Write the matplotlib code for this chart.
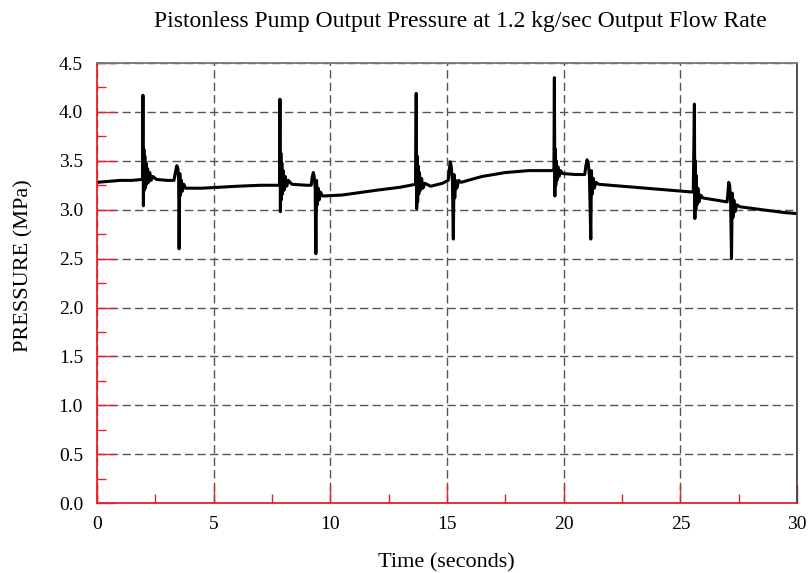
import matplotlib.pyplot as plt
from matplotlib.ticker import MultipleLocator

plt.rcParams['font.family'] = ['Liberation Serif', 'DejaVu Serif']

# time (s) and pressure (MPa)
time_s = [
    0.0, 0.5, 1.0, 1.5, 1.95, 1.97, 1.99, 2.01, 2.03, 2.05, 2.07, 2.10, 2.13, 2.17,
    2.21, 2.26, 2.32, 2.40, 2.55, 3.0, 3.30, 3.36, 3.42, 3.47, 3.50, 3.52, 3.55,
    3.58, 3.62, 3.66, 3.72, 3.80, 4.5, 6.0, 7.0, 7.82, 7.84, 7.86, 7.88, 7.90,
    7.92, 7.95, 7.98, 8.02, 8.07, 8.13, 8.20, 8.35, 9.0, 9.18, 9.22, 9.27, 9.31,
    9.35, 9.38, 9.41, 9.44, 9.48, 9.52, 9.58, 9.66, 10.5, 12.0, 13.0, 13.65,
    13.68, 13.70, 13.72, 13.74, 13.76, 13.79, 13.82, 13.86, 13.91, 13.97, 14.05,
    14.3, 14.8, 15.05, 15.10, 15.14, 15.18, 15.23, 15.27, 15.30, 15.33, 15.37,
    15.42, 15.50, 15.60, 16.5, 17.5, 18.5, 19.5, 19.58, 19.60, 19.62, 19.64,
    19.66, 19.68, 19.71, 19.75, 19.80, 19.86, 19.95, 20.5, 20.90, 20.95, 21.00,
    21.05, 21.10, 21.16, 21.19, 21.22, 21.26, 21.31, 21.38, 21.50, 23.0, 24.5,
    25.55, 25.60, 25.62, 25.64, 25.66, 25.68, 25.71, 25.75, 25.80, 25.87, 25.97,
    26.5, 27.0, 27.03, 27.07, 27.11, 27.15, 27.19, 27.22, 27.25, 27.29, 27.34,
    27.42, 27.55, 28.5, 29.5, 30.0,
]
pressure_mpa = [
    3.28, 3.29, 3.30, 3.30, 3.31, 4.17, 3.04, 3.62, 3.20, 3.55, 3.22, 3.48, 3.26, 3.42,
    3.28, 3.38, 3.30, 3.34, 3.31, 3.30, 3.30, 3.38, 3.45, 3.42, 3.30, 2.60, 3.37,
    3.15, 3.30, 3.19, 3.26, 3.22, 3.22, 3.24, 3.25, 3.25, 4.13, 2.98, 3.58, 3.10,
    3.48, 3.16, 3.40, 3.20, 3.34, 3.24, 3.30, 3.26, 3.25, 3.25, 3.33, 3.38, 3.34,
    3.22, 2.55, 3.30, 3.05, 3.22, 3.10, 3.18, 3.14, 3.15, 3.20, 3.23, 3.26,
    4.19, 3.01, 3.55, 3.08, 3.45, 3.16, 3.38, 3.20, 3.32, 3.22, 3.27,
    3.24, 3.27, 3.30, 3.42, 3.49, 3.44, 3.30, 2.70, 3.36, 3.12, 3.30,
    3.22, 3.30, 3.28, 3.34, 3.38, 3.40, 3.40, 3.41, 4.35, 3.14, 3.62,
    3.25, 3.50, 3.30, 3.44, 3.34, 3.40, 3.37, 3.36, 3.36, 3.45, 3.51,
    3.48, 3.35, 2.70, 3.40, 3.16, 3.32, 3.22, 3.28, 3.26, 3.23, 3.20,
    3.18, 4.08, 2.91, 3.50, 3.00, 3.35, 3.05, 3.22, 3.08, 3.15, 3.12,
    3.10, 3.08, 3.15, 3.28, 3.25, 3.10, 2.50, 3.17, 2.92, 3.10, 2.98,
    3.05, 3.03, 3.00, 2.97, 2.96,
]

fig = plt.figure(figsize=(8.08, 5.73), dpi=100)
ax = fig.add_axes([0.12, 0.122, 0.8665, 0.768])

ax.plot(time_s, pressure_mpa, color='black', linewidth=2.2)

ax.set_xlim(0, 30)
ax.set_ylim(0, 4.5)
ax.xaxis.set_major_locator(MultipleLocator(5))
ax.xaxis.set_minor_locator(MultipleLocator(2.5))
ax.yaxis.set_major_locator(MultipleLocator(0.5))
ax.yaxis.set_minor_locator(MultipleLocator(0.25))
ax.set_yticklabels(['%.1f' % v for v in ax.get_yticks()])

ax.tick_params(which='both', direction='in', color='#e8202a', labelsize=14)
ax.tick_params(axis='x', which='both', pad=9)
ax.tick_params(axis='y', which='both', pad=10)
ax.tick_params(which='major', length=13, width=1)
ax.tick_params(which='minor', length=6.5, width=1)
ax.tick_params(top=False, right=False)

ax.grid(True, which='major', color='#555555', linestyle=(0, (6, 3)), linewidth=1)

ax.spines['left'].set_color('#e8202a')
ax.spines['bottom'].set_color('#e8202a')
ax.spines['top'].set_color('#777777')
ax.spines['right'].set_color('#444444')
for s in ax.spines.values():
    s.set_linewidth(1.3)

fig.text(0.553, 0.0175, 'Time (seconds)', fontsize=16, ha='center', va='center')
fig.text(0.03, 0.536, 'PRESSURE (MPa)', fontsize=16, ha='center', va='center',
         rotation=90)
fig.text(0.570, 0.962, 'Pistonless Pump Output Pressure at 1.2 kg/sec Output Flow Rate',
         fontsize=17, ha='center', va='center')

fig.savefig('out.png', dpi=100)
